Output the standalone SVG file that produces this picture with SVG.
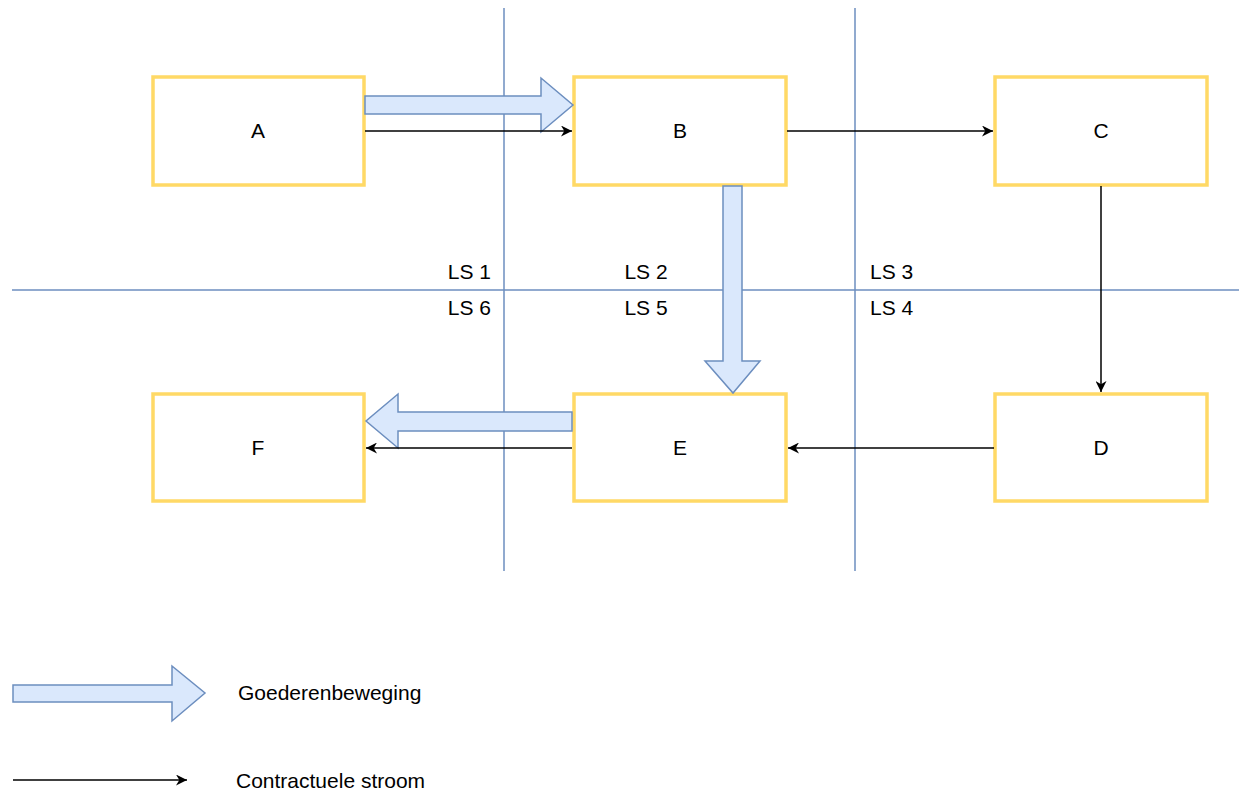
<svg xmlns="http://www.w3.org/2000/svg" width="1239" height="791" viewBox="0 0 1239 791">
<style>
.box{fill:#ffffff;stroke:#ffd966;stroke-width:3.5}
.lane{stroke:#6c8ebf;stroke-width:1.5;fill:none}
.big{fill:#dae8fc;stroke:#6c8ebf;stroke-width:1.5;stroke-linejoin:miter}
.thin{stroke:#000;stroke-width:1.5;fill:none}
text{font-family:"Liberation Sans",Arial,Helvetica,sans-serif;font-size:21px;fill:#000}
.c{text-anchor:middle}
.r{text-anchor:end}
</style>
<defs>
<marker id="ah" viewBox="0 0 10 10" refX="10" refY="5" markerWidth="11" markerHeight="11" markerUnits="userSpaceOnUse" orient="auto">
<path d="M0,0 L10,5 L0,10 L3,5 Z" fill="#000"/>
</marker>
</defs>
<g id="lanes">
<line class="lane" x1="504" y1="8" x2="504" y2="571"/>
<line class="lane" x1="855" y1="8" x2="855" y2="571"/>
<line class="lane" x1="12" y1="290" x2="1239" y2="290"/>
</g>
<g id="lane-labels">
<text class="r" x="491" y="279">LS 1</text>
<text class="c" x="646" y="279">LS 2</text>
<text x="870" y="279">LS 3</text>
<text class="r" x="491" y="315">LS 6</text>
<text class="c" x="646" y="315">LS 5</text>
<text x="870" y="315">LS 4</text>
</g>
<g id="node-A"><rect class="box" x="153" y="77" width="211" height="108"/><text class="c" x="258" y="138">A</text></g>
<g id="node-B"><rect class="box" x="574" y="77" width="212" height="108"/><text class="c" x="680" y="138">B</text></g>
<g id="node-C"><rect class="box" x="995" y="77" width="212" height="108"/><text class="c" x="1101" y="138">C</text></g>
<g id="node-D"><rect class="box" x="995" y="394" width="212" height="107"/><text class="c" x="1101" y="455">D</text></g>
<g id="node-E"><rect class="box" x="574" y="394" width="212" height="107"/><text class="c" x="680" y="455">E</text></g>
<g id="node-F"><rect class="box" x="153" y="394" width="211" height="107"/><text class="c" x="258" y="455">F</text></g>
<g id="connectors">
<path class="big" d="M365,96 L541,96 L541,78 L573,105 L541,132 L541,114 L365,114 Z"/>
<path class="big" d="M723,186 L742,186 L742,361 L760,361 L733,393 L705,361 L723,361 Z"/>
<path class="big" d="M572,412 L398,412 L398,394 L366,421 L398,448 L398,431 L572,431 Z"/>
<line class="thin" x1="365" y1="131" x2="572" y2="131" marker-end="url(#ah)"/>
<line class="thin" x1="787" y1="131" x2="993" y2="131" marker-end="url(#ah)"/>
<line class="thin" x1="1101" y1="186" x2="1101" y2="392" marker-end="url(#ah)"/>
<line class="thin" x1="994" y1="448" x2="788" y2="448" marker-end="url(#ah)"/>
<line class="thin" x1="572" y1="448" x2="366" y2="448" marker-end="url(#ah)"/>
</g>
<g id="legend">
<path class="big" d="M13,685 L172,685 L172,666 L205,693 L172,721 L172,702 L13,702 Z"/>
<text x="238" y="700">Goederenbeweging</text>
<line class="thin" x1="13" y1="780" x2="187" y2="780" marker-end="url(#ah)"/>
<text x="236" y="788">Contractuele stroom</text>
</g>
</svg>
